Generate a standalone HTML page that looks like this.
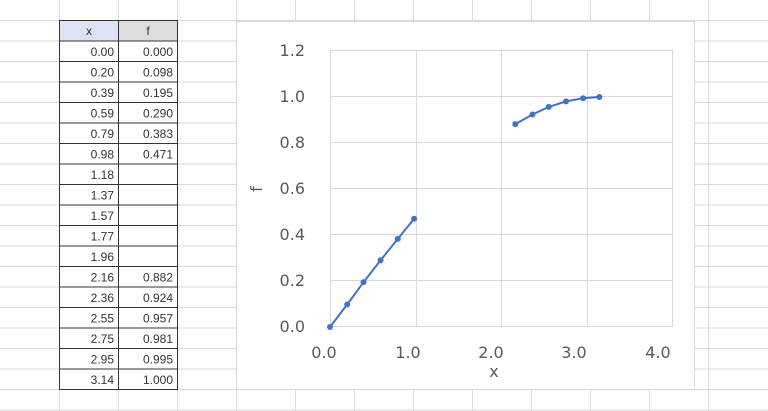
<!DOCTYPE html><html><head><style>body{margin:0;background:#fff}svg{display:block}</style></head><body>
<svg width="768" height="411" xmlns="http://www.w3.org/2000/svg" font-family="Liberation Sans, sans-serif">
<g stroke="#dadada" stroke-width="1">
<line x1="59.5" y1="0" x2="59.5" y2="411"/><line x1="118.5" y1="0" x2="118.5" y2="411"/><line x1="177.5" y1="0" x2="177.5" y2="411"/><line x1="236.5" y1="0" x2="236.5" y2="411"/><line x1="295.5" y1="0" x2="295.5" y2="411"/><line x1="354.5" y1="0" x2="354.5" y2="411"/><line x1="413.5" y1="0" x2="413.5" y2="411"/><line x1="472.5" y1="0" x2="472.5" y2="411"/><line x1="531.5" y1="0" x2="531.5" y2="411"/><line x1="590.5" y1="0" x2="590.5" y2="411"/><line x1="649.5" y1="0" x2="649.5" y2="411"/><line x1="708.5" y1="0" x2="708.5" y2="411"/>
<line x1="0" y1="20.5" x2="768" y2="20.5"/><line x1="0" y1="41" x2="768" y2="41"/><line x1="0" y1="61.5" x2="768" y2="61.5"/><line x1="0" y1="82" x2="768" y2="82"/><line x1="0" y1="102.5" x2="768" y2="102.5"/><line x1="0" y1="123" x2="768" y2="123"/><line x1="0" y1="143.5" x2="768" y2="143.5"/><line x1="0" y1="164" x2="768" y2="164"/><line x1="0" y1="184.5" x2="768" y2="184.5"/><line x1="0" y1="205" x2="768" y2="205"/><line x1="0" y1="225.5" x2="768" y2="225.5"/><line x1="0" y1="246" x2="768" y2="246"/><line x1="0" y1="266.5" x2="768" y2="266.5"/><line x1="0" y1="287" x2="768" y2="287"/><line x1="0" y1="307.5" x2="768" y2="307.5"/><line x1="0" y1="328" x2="768" y2="328"/><line x1="0" y1="348.5" x2="768" y2="348.5"/><line x1="0" y1="369" x2="768" y2="369"/><line x1="0" y1="389.5" x2="768" y2="389.5"/><line x1="0" y1="410" x2="768" y2="410"/>
</g>
<rect x="60" y="21" width="58" height="20" fill="#dce3f3"/><rect x="119" y="21" width="58" height="20" fill="#dcdcdc"/>
<g stroke="#333" stroke-width="1" fill="none">
<rect x="59.5" y="20.5" width="118" height="369"/><line x1="118.5" y1="20.5" x2="118.5" y2="389.5"/>
<path d="M59.5 41H177.5M59.5 61.5H177.5M59.5 82H177.5M59.5 102.5H177.5M59.5 123H177.5M59.5 143.5H177.5M59.5 164H177.5M59.5 184.5H177.5M59.5 205H177.5M59.5 225.5H177.5M59.5 246H177.5M59.5 266.5H177.5M59.5 287H177.5M59.5 307.5H177.5M59.5 328H177.5M59.5 348.5H177.5M59.5 369H177.5"/>
</g>
<g font-size="12" fill="#333">
<text x="89" y="35" text-anchor="middle">x</text><text x="148" y="35" text-anchor="middle">f</text>
<g text-anchor="end">
<text x="114" y="56">0.00</text><text x="173" y="56">0.000</text>
<text x="114" y="76.5">0.20</text><text x="173" y="76.5">0.098</text>
<text x="114" y="97">0.39</text><text x="173" y="97">0.195</text>
<text x="114" y="117.5">0.59</text><text x="173" y="117.5">0.290</text>
<text x="114" y="138">0.79</text><text x="173" y="138">0.383</text>
<text x="114" y="158.5">0.98</text><text x="173" y="158.5">0.471</text>
<text x="114" y="179">1.18</text>
<text x="114" y="199.5">1.37</text>
<text x="114" y="220">1.57</text>
<text x="114" y="240.5">1.77</text>
<text x="114" y="261">1.96</text>
<text x="114" y="281.5">2.16</text><text x="173" y="281.5">0.882</text>
<text x="114" y="302">2.36</text><text x="173" y="302">0.924</text>
<text x="114" y="322.5">2.55</text><text x="173" y="322.5">0.957</text>
<text x="114" y="343">2.75</text><text x="173" y="343">0.981</text>
<text x="114" y="363.5">2.95</text><text x="173" y="363.5">0.995</text>
<text x="114" y="384">3.14</text><text x="173" y="384">1.000</text>
</g></g>
<rect x="236.5" y="21.5" width="458" height="368" fill="#fff" stroke="#d9d9d9"/>
<g stroke="#d9d9d9" stroke-width="1">
<path d="M330 50.5H673M330 96.5H673M330 142.5H673M330 188.5H673M330 234.5H673M330 280.5H673M330 326.5H673"/>
<path d="M330.5 50V327M416.5 50V327M501.5 50V327M587.5 50V327M672.5 50V327"/>
</g>
<g font-size="16" fill="#595959" font-family="DejaVu Sans, sans-serif">
<g text-anchor="end">
<text x="305" y="56">1.2</text><text x="305" y="102">1.0</text><text x="305" y="148">0.8</text><text x="305" y="194">0.6</text><text x="305" y="240">0.4</text><text x="305" y="286">0.2</text><text x="305" y="332">0.0</text>
</g>
<g text-anchor="middle">
<text x="324" y="358">0.0</text><text x="408" y="358">1.0</text><text x="491" y="358">2.0</text><text x="574" y="358">3.0</text><text x="658" y="358">4.0</text>
<text x="494" y="377">x</text>
</g>
<text x="262" y="189" text-anchor="middle" transform="rotate(-90 262 189)">f</text>
</g>
<g stroke="#4472c4" stroke-width="2" fill="none">
<polyline points="330,327 347.2,304.5 363.5,282.2 380.6,260.3 397.8,238.9 414.1,218.7"/>
<polyline points="515.3,124.1 532.5,114.5 548.8,106.9 566,101.4 583.1,98.2 599.4,97"/>
</g>
<g fill="#4472c4">
<circle cx="330" cy="327" r="3"/><circle cx="347.2" cy="304.5" r="3"/><circle cx="363.5" cy="282.2" r="3"/><circle cx="380.6" cy="260.3" r="3"/><circle cx="397.8" cy="238.9" r="3"/><circle cx="414.1" cy="218.7" r="3"/>
<circle cx="515.3" cy="124.1" r="3"/><circle cx="532.5" cy="114.5" r="3"/><circle cx="548.8" cy="106.9" r="3"/><circle cx="566" cy="101.4" r="3"/><circle cx="583.1" cy="98.2" r="3"/><circle cx="599.4" cy="97" r="3"/>
</g>
</svg></body></html>
